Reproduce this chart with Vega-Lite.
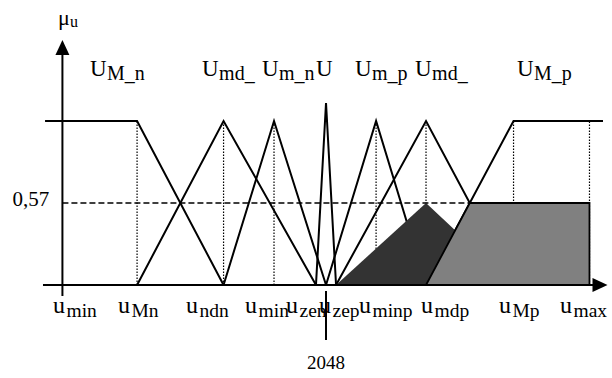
{
  "$schema": "https://vega.github.io/schema/vega-lite/v6.json",
  "width": 612,
  "height": 378,
  "padding": 0,
  "autosize": {"type": "fit", "contains": "padding"},
  "background": "white",
  "config": {"view": {"stroke": null}, "text": {"font": "Liberation Serif", "color": "black"}},
  "datasets": {
    "mf": [
      {"set": "U_M_n", "u": -135, "mu": 1},
      {"set": "U_M_n", "u": 580, "mu": 1},
      {"set": "U_M_n", "u": 1252, "mu": 0},
      {"set": "U_md_n", "u": 580, "mu": 0},
      {"set": "U_md_n", "u": 1252, "mu": 1},
      {"set": "U_md_n", "u": 1970, "mu": 0},
      {"set": "U_m_n", "u": 1252, "mu": 0},
      {"set": "U_m_n", "u": 1644, "mu": 1},
      {"set": "U_m_n", "u": 2048, "mu": 0},
      {"set": "U_ze", "u": 1970, "mu": 0},
      {"set": "U_ze", "u": 2048, "mu": 1.0881},
      {"set": "U_ze", "u": 2126, "mu": 0},
      {"set": "U_m_p", "u": 2048, "mu": 0},
      {"set": "U_m_p", "u": 2437, "mu": 1},
      {"set": "U_m_p", "u": 2825, "mu": 0},
      {"set": "U_md_p", "u": 2126, "mu": 0},
      {"set": "U_md_p", "u": 2825, "mu": 1},
      {"set": "U_md_p", "u": 3505, "mu": 0},
      {"set": "U_M_p", "u": 2825, "mu": 0},
      {"set": "U_M_p", "u": 3505, "mu": 1},
      {"set": "U_M_p", "u": 4200, "mu": 1}
    ],
    "grid": [
      {"name": "u_Mn", "u": 580},
      {"name": "u_ndn", "u": 1252},
      {"name": "u_minn", "u": 1644},
      {"name": "u_minp", "u": 2437},
      {"name": "u_mdp", "u": 2825},
      {"name": "u_Mp", "u": 3505},
      {"name": "u_max", "u": 4095}
    ],
    "cut": [{"level": 0.57, "from": 0, "to": 3165}],
    "outMd": [
      {"u": 2126, "mu": 0},
      {"u": 2825, "mu": 0.57},
      {"u": 3505, "mu": 0}
    ],
    "outM": [
      {"u": 2825, "mu": 0},
      {"u": 3165, "mu": 0.57},
      {"u": 4095, "mu": 0.57}
    ],
    "axes": [
      {"part": "u axis", "u": -151, "u2": 4177, "mu": 0, "mu2": 0},
      {"part": "mu axis", "u": 0, "u2": 0, "mu": -0.1118, "mu2": 1.35},
      {"part": "centre tick", "u": 2048, "u2": 2048, "mu": -0.0684, "mu2": -0.4123}
    ],
    "arrows": [
      {"dir": "up", "u": 0, "mu": 1.3502},
      {"dir": "right", "u": 4177, "mu": 0}
    ],
    "labels": [
      {"row": "top", "u": 214, "main": "U", "sub": "M_n"},
      {"row": "top", "u": 1085, "main": "U", "sub": "md_"},
      {"row": "top", "u": 1551, "main": "U", "sub": "m_n"},
      {"row": "top", "u": 1970, "main": "U", "sub": ""},
      {"row": "top", "u": 2273, "main": "U", "sub": "m_p"},
      {"row": "top", "u": 2740, "main": "U", "sub": "md_"},
      {"row": "top", "u": 3532, "main": "U", "sub": "M_p"},
      {"row": "bottom", "u": -73, "main": "u", "sub": "min"},
      {"row": "bottom", "u": 432, "main": "u", "sub": "Mn"},
      {"row": "bottom", "u": 960, "main": "u", "sub": "ndn"},
      {"row": "bottom", "u": 1419, "main": "u", "sub": "min"},
      {"row": "bottom", "u": 1737, "main": "u", "sub": "zen"},
      {"row": "bottom", "u": 1994, "main": "u", "sub": "zep"},
      {"row": "bottom", "u": 2304, "main": "u", "sub": "minp"},
      {"row": "bottom", "u": 2786, "main": "u", "sub": "mdp"},
      {"row": "bottom", "u": 3392, "main": "u", "sub": "Mp"},
      {"row": "bottom", "u": 3866, "main": "u", "sub": "max"},
      {"row": "axis", "u": -34, "main": "μ", "sub": "u"}
    ]
  },
  "layer": [
    {
      "data": {"name": "grid"},
      "mark": {"type": "rule", "color": "black", "strokeWidth": 1.2, "strokeDash": [1.5, 1.5]},
      "encoding": {
        "x": {"field": "u", "type": "quantitative", "scale": {"type": "linear", "domain": [-485, 4270], "nice": false, "zero": false}, "axis": null},
        "y": {"datum": 0, "type": "quantitative", "scale": {"type": "pow", "exponent": 1.233096, "domain": [-0.6313, 1.5654], "nice": false, "zero": false}, "axis": null},
        "y2": {"datum": 1}
      }
    },
    {
      "data": {"name": "cut"},
      "mark": {"type": "rule", "color": "black", "strokeWidth": 1.5, "strokeDash": [6, 3]},
      "encoding": {
        "x": {"field": "from", "type": "quantitative"},
        "x2": {"field": "to"},
        "y": {"field": "level", "type": "quantitative"}
      }
    },
    {
      "data": {"name": "mf"},
      "mark": {"type": "line", "color": "black", "strokeWidth": 2},
      "encoding": {
        "x": {"field": "u", "type": "quantitative"},
        "y": {"field": "mu", "type": "quantitative"},
        "detail": {"field": "set"}
      }
    },
    {
      "data": {"name": "outMd"},
      "mark": {"type": "area", "color": "#333333", "opacity": 1},
      "encoding": {
        "x": {"field": "u", "type": "quantitative"},
        "y": {"field": "mu", "type": "quantitative"},
        "y2": {"datum": 0}
      }
    },
    {
      "data": {"name": "outM"},
      "mark": {"type": "area", "fill": "#808080", "fillOpacity": 1, "stroke": "black", "strokeWidth": 1.8},
      "encoding": {
        "x": {"field": "u", "type": "quantitative"},
        "y": {"field": "mu", "type": "quantitative"},
        "y2": {"datum": 0}
      }
    },
    {
      "data": {"name": "axes"},
      "mark": {"type": "rule", "color": "black", "strokeWidth": 2},
      "encoding": {
        "x": {"field": "u", "type": "quantitative"},
        "x2": {"field": "u2"},
        "y": {"field": "mu", "type": "quantitative"},
        "y2": {"field": "mu2"}
      }
    },
    {
      "data": {"name": "arrows"},
      "mark": {"type": "point", "filled": true, "opacity": 1, "color": "black", "size": 225, "strokeWidth": 0},
      "encoding": {
        "x": {"field": "u", "type": "quantitative"},
        "y": {"field": "mu", "type": "quantitative"},
        "shape": {"field": "dir", "type": "nominal", "scale": {"domain": ["up", "right"], "range": ["M0,-1L-0.93,1L0.93,1Z", "M1,0L-1,-0.93L-1,0.93Z"]}, "legend": null}
      }
    },
    {
      "data": {"name": "labels"},
      "transform": [{"filter": "datum.row === 'top'"}],
      "mark": {"type": "text", "align": "left", "baseline": "alphabetic", "fontSize": 23},
      "encoding": {
        "x": {"field": "u", "type": "quantitative"},
        "y": {"datum": 1.2173},
        "text": {"field": "main"}
      }
    },
    {
      "data": {"name": "labels"},
      "transform": [{"filter": "datum.row === 'top'"}],
      "mark": {"type": "text", "align": "left", "baseline": "alphabetic", "fontSize": 20, "dx": 17, "dy": 4.5},
      "encoding": {
        "x": {"field": "u", "type": "quantitative"},
        "y": {"datum": 1.2173},
        "text": {"field": "sub"}
      }
    },
    {
      "data": {"name": "labels"},
      "transform": [{"filter": "datum.row === 'bottom'"}],
      "mark": {"type": "text", "align": "left", "baseline": "alphabetic", "fontSize": 24},
      "encoding": {
        "x": {"field": "u", "type": "quantitative"},
        "y": {"datum": -0.2385},
        "text": {"field": "main"}
      }
    },
    {
      "data": {"name": "labels"},
      "transform": [{"filter": "datum.row === 'bottom'"}],
      "mark": {"type": "text", "align": "left", "baseline": "alphabetic", "fontSize": 19.5, "dx": 13.5, "dy": 4.5},
      "encoding": {
        "x": {"field": "u", "type": "quantitative"},
        "y": {"datum": -0.2385},
        "text": {"field": "sub"}
      }
    },
    {
      "data": {"name": "labels"},
      "transform": [{"filter": "datum.row === 'axis'"}],
      "mark": {"type": "text", "align": "left", "baseline": "alphabetic", "fontSize": 22},
      "encoding": {
        "x": {"field": "u", "type": "quantitative"},
        "y": {"datum": 1.4531},
        "text": {"field": "main"}
      }
    },
    {
      "data": {"name": "labels"},
      "transform": [{"filter": "datum.row === 'axis'"}],
      "mark": {"type": "text", "align": "left", "baseline": "alphabetic", "fontSize": 16, "dx": 12, "dy": 2},
      "encoding": {
        "x": {"field": "u", "type": "quantitative"},
        "y": {"datum": 1.4531},
        "text": {"field": "sub"}
      }
    },
    {
      "data": {"name": "cut"},
      "mark": {"type": "text", "align": "right", "baseline": "middle", "fontSize": 21, "dx": -8, "dy": -3},
      "encoding": {
        "x": {"datum": -40, "type": "quantitative"},
        "y": {"field": "level", "type": "quantitative"},
        "text": {"value": "0,57"}
      }
    },
    {
      "data": {"values": [{"centre": 2048}]},
      "mark": {"type": "text", "align": "center", "baseline": "alphabetic", "fontSize": 19},
      "encoding": {
        "x": {"field": "centre", "type": "quantitative"},
        "y": {"datum": -0.5812},
        "text": {"field": "centre", "format": "d"}
      }
    }
  ]
}
